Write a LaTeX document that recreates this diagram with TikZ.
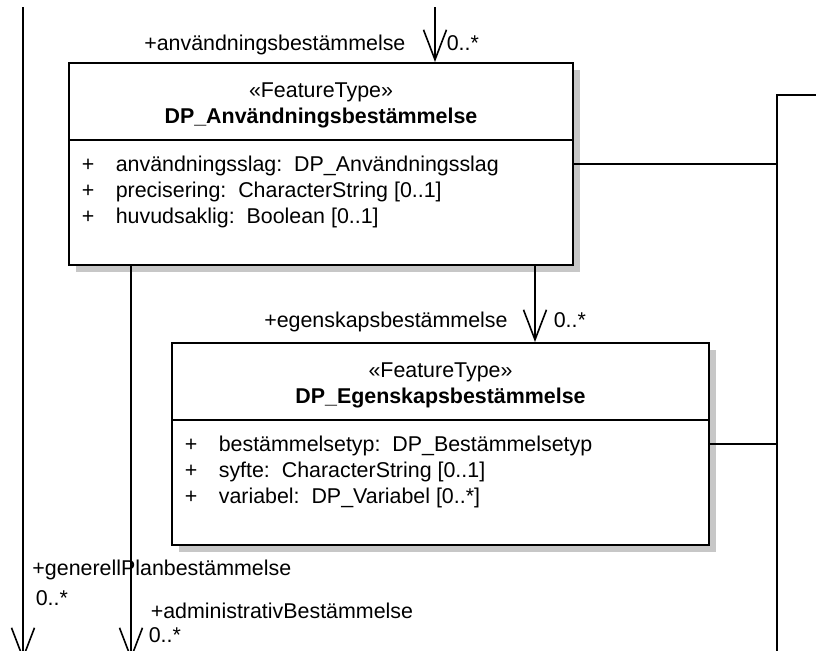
\documentclass[tikz,border=0pt]{standalone}
\usepackage{fontspec}
\setmainfont{Liberation Sans}
\usetikzlibrary{arrows.meta,positioning,shadows}
\newcommand{\umlfont}{\fontsize{10.7}{12.5}\selectfont}

\begin{document}
\begin{tikzpicture}[x=0.5pt, y=-0.5pt,
    >={Straight Barb[length=15pt,width=11.5pt]},
    line width = 0.8pt,
    font = \umlfont,
    cls/.style = {draw, line width=1pt, fill=white, inner sep=0pt,
                  minimum height=101pt,
                  drop shadow={shadow xshift=3.5pt, shadow yshift=-3.5pt,
                               fill=black!22, opacity=1}},
    ster/.style = {anchor=base, inner sep=0pt},
    clsname/.style = {ster, font=\umlfont\bfseries},
    attr/.style = {anchor=base west, inner sep=0pt},
    role/.style = {anchor=base west, inner sep=0pt}
                    ]
\clip (0,0) rectangle (816,650);

% classes
\node (anv)  [cls, minimum width=252pt]   at (321,164)   {};
\node (egen) [cls, minimum width=268.5pt] at (440.5,444) {};

\draw ([yshift=-39pt]anv.north west)  -- ([yshift=-39pt]anv.north east);
\draw ([yshift=-39pt]egen.north west) -- ([yshift=-39pt]egen.north east);

\node (anvst)  [ster]    at ([yshift=-17.5pt]anv.north)  {«FeatureType»};
\node (anvnm)  [clsname] at ([yshift=-30.5pt]anv.north)  {DP\_Användningsbestämmelse};
\node (egenst) [ster]    at ([yshift=-17.5pt]egen.north) {«FeatureType»};
\node (egennm) [clsname] at ([yshift=-30.5pt]egen.north) {DP\_Egenskapsbestämmelse};

% attributes
\node (anvp1) [attr] at ([xshift=6.5pt,yshift=-54.75pt]anv.north west) {+};
\node (anva1) [attr] at ([xshift=23.5pt,yshift=-54.75pt]anv.north west)
    {användningsslag:\ \ DP\_Användningsslag};
\node (anvp2) [attr] at ([xshift=6.5pt,yshift=-67.75pt]anv.north west) {+};
\node (anva2) [attr] at ([xshift=23.5pt,yshift=-67.75pt]anv.north west)
    {precisering:\ \ CharacterString [0..1]};
\node (anvp3) [attr] at ([xshift=6.5pt,yshift=-80.75pt]anv.north west) {+};
\node (anva3) [attr] at ([xshift=23.5pt,yshift=-80.75pt]anv.north west)
    {huvudsaklig:\ \ Boolean [0..1]};

\node (egenp1) [attr] at ([xshift=6.5pt,yshift=-54.75pt]egen.north west) {+};
\node (egena1) [attr] at ([xshift=23.5pt,yshift=-54.75pt]egen.north west)
    {bestämmelsetyp:\ \ DP\_Bestämmelsetyp};
\node (egenp2) [attr] at ([xshift=6.5pt,yshift=-67.75pt]egen.north west) {+};
\node (egena2) [attr] at ([xshift=23.5pt,yshift=-67.75pt]egen.north west)
    {syfte:\ \ CharacterString [0..1]};
\node (egenp3) [attr] at ([xshift=6.5pt,yshift=-80.75pt]egen.north west) {+};
\node (egena3) [attr] at ([xshift=23.5pt,yshift=-80.75pt]egen.north west)
    {variabel:\ \ DP\_Variabel [0..*]};

% roles and multiplicities
\node (anvrole)  [role] at (143.5,50) {+användningsbestämmelse};
\node (anvmult)  [role] at (446,50)   {0..*};
\node (egenrole) [role] at (263.5,327) {+egenskapsbestämmelse};
\node (egenmult) [role] at (553,327)  {0..*};
\node (genrole)  [role] at (31.7,575) {+generellPlanbestämmelse};
\node (genmult)  [role] at (35,605)   {0..*};
\node (admrole)  [role] at (150,618)  {+administrativBestämmelse};
\node (admmult)  [role] at (148,642)  {0..*};

% associations
\coordinate (anvtop) at (435,7);
\coordinate (gentop) at (23,7);
\coordinate (genend) at (23,660);
\coordinate (admend) at (131,660);
\coordinate (bustop) at (777,95);
\coordinate (busend) at (777,660);
\coordinate (busout) at (830,95);

\draw[->] (anvtop) -- (anvtop |- anv.north);
\draw[->] ([xshift=107pt]anv.south) -- ([xshift=107pt]anv.south |- egen.north);
\draw[->] (gentop) -- (genend);
\draw[->] (anv.south west -| admend) -- (admend);
\draw (busout) -- (bustop) -- (busend);
\draw (anv.east)  -- (anv.east -| bustop);
\draw (egen.east) -- (egen.east -| bustop);
\end{tikzpicture}
\end{document}
